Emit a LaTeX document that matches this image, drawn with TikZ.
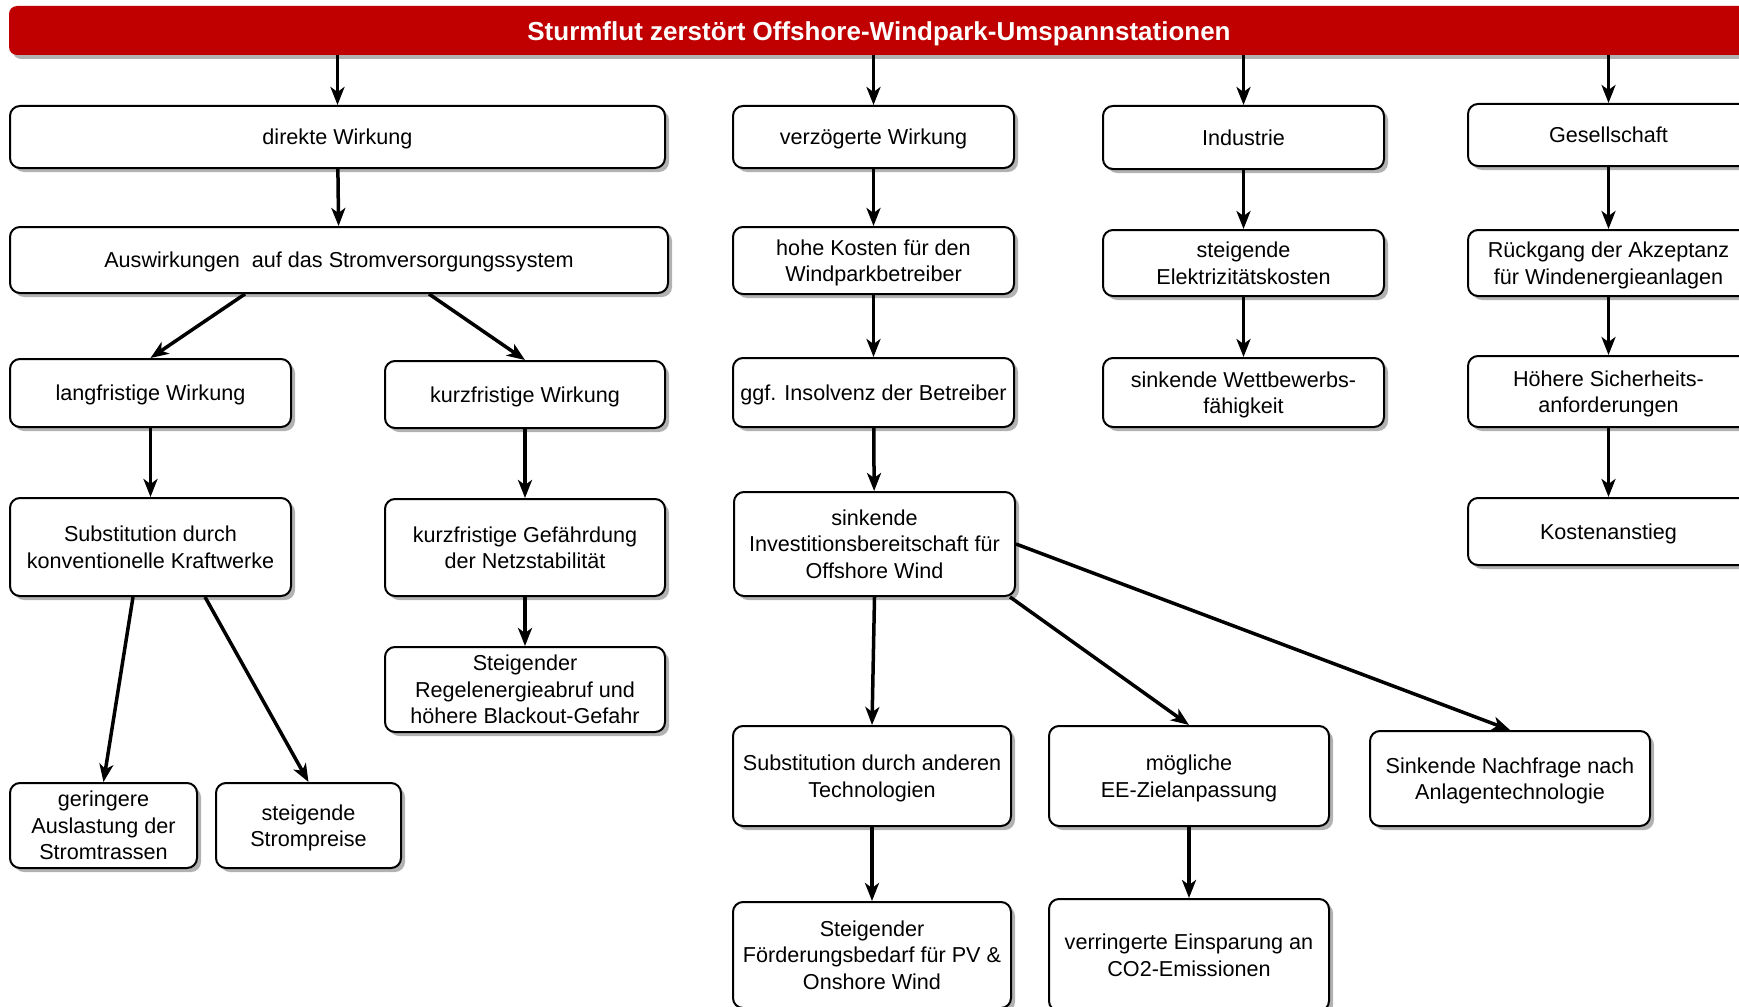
\documentclass[tikz,border=0pt]{standalone}
\usepackage{fontspec}
\setmainfont{Liberation Sans}
\usetikzlibrary{shadows,arrows.meta,calc}
\definecolor{hdrred}{HTML}{C00000}
\newcommand\bx[6]{\node[box, minimum width=#4pt, minimum height=#5pt] (#1) at (#2,#3) {\raisebox{-2.5pt}[\height][\depth]{\begin{tabular}{@{}c@{}}#6\end{tabular}}};}
\begin{document}
\begin{tikzpicture}[x=1pt,y=-1pt,
  box/.style={draw=black, line width=2pt, rounded corners=10pt, fill=white, align=center,
    font=\fontsize{21.6}{26.5}\selectfont, inner sep=2pt,
    drop shadow={shadow xshift=4pt, shadow yshift=-4pt, opacity=0.3, fill=black}},
  hdrbox/.style={fill=hdrred, rounded corners=8pt, text=white, font=\fontsize{26}{30}\selectfont\bfseries,
    drop shadow={shadow xshift=4pt, shadow yshift=-4pt, opacity=0.3, fill=black}},
  arr/.style={line width=3.5pt, -{Stealth[length=18pt,width=14pt,inset=5pt]}}]
\useasboundingbox (0,0) rectangle (1739,1006);
\clip (0,0) rectangle (1739,1006);
\node[hdrbox, minimum width=1740pt, minimum height=49pt] (hdr) at (879,30.5) {\raisebox{-3pt}[\height][\depth]{Sturmflut zerstört Offshore-Windpark-Umspannstationen}};
% row 1
\bx{dir}{337.5}{137}{655}{62}{direkte Wirkung}
\bx{verz}{873.5}{137}{281}{62}{verzögerte Wirkung}
\bx{ind}{1243.5}{137.5}{281}{63}{Industrie}
\bx{ges}{1608.5}{135}{281}{62}{Gesellschaft}
% row 2
\bx{aus}{339}{260}{658}{66}{Auswirkungen\ \ auf das Stromversorgungssystem}
\bx{hoh}{873.5}{260.5}{281}{67}{hohe Kosten für den\\Windparkbetreiber}
\bx{elek}{1243.5}{263}{281}{66}{steigende\\Elektrizitätskosten}
\bx{rueck}{1608.5}{263}{281}{66}{Rückgang der Akzeptanz\\für Windenergieanlagen}
% row 3
\bx{lang}{150.5}{393}{281}{68}{langfristige Wirkung}
\bx{kurz}{525}{394.5}{280}{67}{kurzfristige Wirkung}
\bx{insol}{873.5}{392.5}{281}{69}{ggf. Insolvenz der Betreiber}
\bx{wett}{1243.5}{392.5}{281}{69}{sinkende Wettbewerbs-\\fähigkeit}
\bx{sich}{1608.5}{391.5}{281}{71}{Höhere Sicherheits-\\anforderungen}
% row 4
\bx{subk}{150.5}{547}{281}{98}{Substitution durch\\konventionelle Kraftwerke}
\bx{gef}{525}{547.5}{280}{97}{kurzfristige Gefährdung\\der Netzstabilität}
\bx{inv}{874.5}{544}{281}{104}{sinkende\\Investitionsbereitschaft für\\Offshore Wind}
\bx{kost}{1608.5}{531.5}{281}{67}{Kostenanstieg}
% row 5
\bx{regel}{525}{689.5}{280}{85}{Steigender\\Regelenergieabruf und\\höhere Blackout-Gefahr}
% row 6
\bx{ger}{103.5}{825.5}{187}{85}{geringere\\Auslastung der\\Stromtrassen}
\bx{strp}{308.5}{825.5}{185}{85}{steigende\\Strompreise}
\bx{suban}{872}{776}{278}{100}{Substitution durch anderen\\Technologien}
\bx{moeg}{1189}{776}{280}{100}{mögliche\\EE-Zielanpassung}
\bx{nach}{1510}{778.5}{280}{95}{Sinkende Nachfrage nach\\Anlagentechnologie}
% row 7
\bx{foerd}{872}{955}{278}{106}{Steigender\\Förderungsbedarf für PV \&\\Onshore Wind}
\bx{verr}{1189}{955}{280}{112}{verringerte Einsparung an\\CO2-Emissionen}
% arrows from header
\draw[arr] (dir.north |- hdr.south) -- (dir.north);
\draw[arr] (verz.north |- hdr.south) -- (verz.north);
\draw[arr] (ind.north |- hdr.south) -- (ind.north);
\draw[arr] (ges.north |- hdr.south) -- (ges.north);
% left branch
\draw[arr] (dir) -- (aus);
\draw[arr] ([xshift=236pt]aus.south west) -- (lang.north);
\draw[arr] ([xshift=420pt]aus.south west) -- (kurz.north);
\draw[arr] (lang) -- (subk);
\draw[arr] (kurz) -- (gef);
\draw[arr] (gef) -- (regel);
\draw[arr] ([xshift=124pt]subk.south west) -- (ger.north);
\draw[arr] ([xshift=196pt]subk.south west) -- (strp.north);
% middle branch
\draw[arr] (verz) -- (hoh);
\draw[arr] (hoh) -- (insol);
\draw[arr] (insol) -- (inv);
\draw[arr] (inv.south) -- (suban.north);
\draw[arr] ([xshift=-6pt]inv.south east) -- (moeg.north);
\draw[arr] (inv.east) -- (nach.north);
\draw[arr] (suban) -- (foerd);
\draw[arr] (moeg) -- (verr);
% industry
\draw[arr] (ind) -- (elek);
\draw[arr] (elek) -- (wett);
% society
\draw[arr] (ges) -- (rueck);
\draw[arr] (rueck) -- (sich);
\draw[arr] (sich) -- (kost);
\end{tikzpicture}
\end{document}
